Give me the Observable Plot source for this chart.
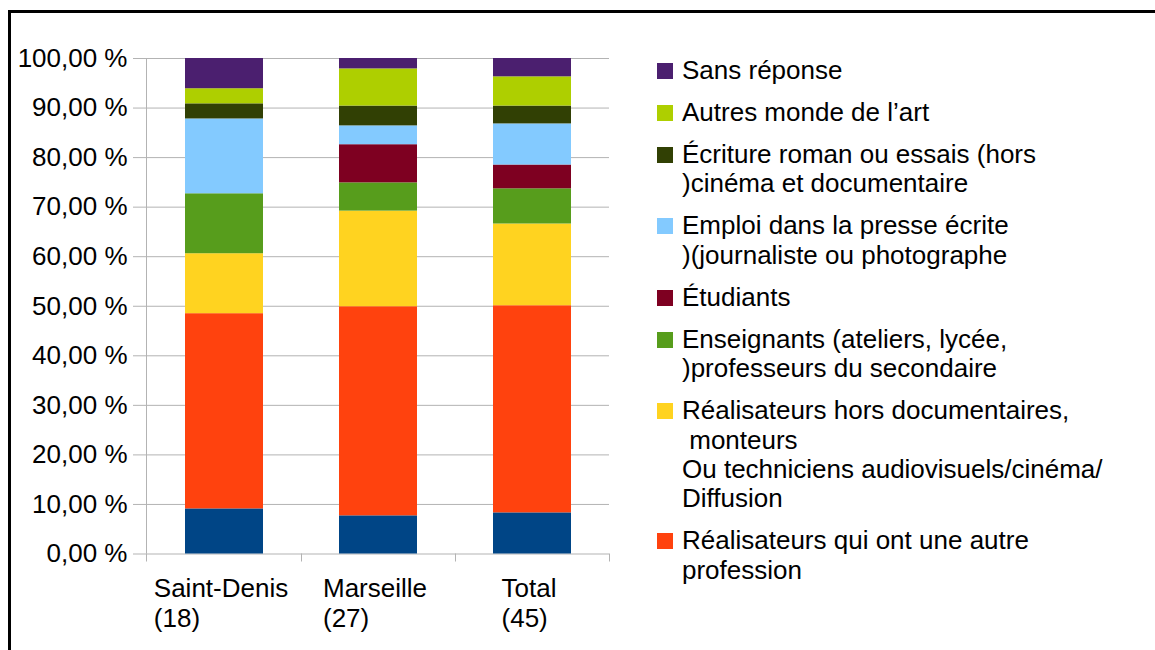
<!DOCTYPE html>
<html><head><meta charset="utf-8">
<script src="https://cdn.jsdelivr.net/npm/d3@7"></script>
<script src="https://cdn.jsdelivr.net/npm/@observablehq/plot@0.6"></script>
<style>
html,body{margin:0;padding:0;background:#fff;width:1155px;height:650px;overflow:hidden;font-family:"Liberation Sans",Arial,sans-serif;}
#wrap{position:relative;width:1155px;height:650px;}
#chart{position:absolute;left:0;top:0;}
#frame{position:absolute;left:8px;top:10px;width:1200px;height:700px;border-top:3px solid #000;border-left:3px solid #000;pointer-events:none;}
#legend{position:absolute;left:657px;top:56px;font-size:26px;line-height:29.4px;color:#000;}
.item{position:relative;padding-left:25px;margin-bottom:12.6px;white-space:pre;}
.sw{position:absolute;left:0;top:6.7px;width:16px;height:16px;}
</style></head>
<body>
<div id="wrap">
  <div id="chart"></div>
  <div id="legend"></div>
  <div id="frame"></div>
</div>
<script>
// ---- data ----
const categories = ["Saint-Denis", "Marseille", "Total"];
const categoryCounts = ["(18)", "(27)", "(45)"];

// series, bottom to top of each bar
const seriesNames = [
  "Série sans légende",
  "Réalisateurs qui ont une autre profession",
  "Réalisateurs hors documentaires, monteurs Ou techniciens audiovisuels/cinéma/ Diffusion",
  "Enseignants (ateliers, lycée, )professeurs du secondaire",
  "Étudiants",
  "Emploi dans la presse écrite )(journaliste ou photographe",
  "Écriture roman ou essais (hors )cinéma et documentaire",
  "Autres monde de l’art",
  "Sans réponse"
];
const seriesColors = ["#004586", "#ff420e", "#ffd320", "#579d1c", "#7e0021", "#83caff", "#314004", "#aecf00", "#4b1f6f"];

// legend text (null = no legend entry), same order as seriesNames
const legendLabels = [
  null,
  "Réalisateurs qui ont une autre\nprofession",
  "Réalisateurs hors documentaires,\n monteurs\nOu techniciens audiovisuels/cinéma/\nDiffusion",
  "Enseignants (ateliers, lycée,\n)professeurs du secondaire",
  "Étudiants",
  "Emploi dans la presse écrite\n)(journaliste ou photographe",
  "Écriture roman ou essais (hors\n)cinéma et documentaire",
  "Autres monde de l’art",
  "Sans réponse"
];

// percentages per category, same order as seriesNames
const valuesSaintDenis = [9.1, 39.4, 12.1, 12.1, 0, 15.1, 3.05, 3.05, 6.1];
const valuesMarseille  = [7.7, 42.2, 19.3, 5.7, 7.7, 3.8, 4.0, 7.5, 2.1];
const valuesTotal      = [8.3, 41.8, 16.5, 7.1, 4.8, 8.3, 3.6, 5.9, 3.7];

const yTicks = [0, 10, 20, 30, 40, 50, 60, 70, 80, 90, 100];

// ---- build table ----
const valuesByCategory = [valuesSaintDenis, valuesMarseille, valuesTotal];
const table = [];
seriesNames.forEach((s, j) => {
  categories.forEach((c, i) => {
    table.push({category: c, series: s, value: valuesByCategory[i][j]});
  });
});

const fmt = d => d.toFixed(2).replace(".", ",") + " %";
const gridColor = "#b3b3b3";

const W = 1155, H = 650;
const mL = 146, mR = 546, mT = 58, mB = 96.5;

const plot = Plot.plot({
  width: W, height: H,
  marginLeft: mL, marginRight: mR, marginTop: mT, marginBottom: mB,
  style: {fontFamily: "'Liberation Sans', Arial, sans-serif", fontSize: "26px", color: "#000", background: "transparent", overflow: "visible"},
  x: {domain: categories, paddingInner: 0.494, paddingOuter: 0.247, axis: null},
  y: {domain: [0, 100], axis: null},
  color: {domain: seriesNames, range: seriesColors},
  marks: [
    Plot.gridY(yTicks, {stroke: gridColor, strokeOpacity: 1, strokeWidth: 1}),
    Plot.axisY(yTicks, {tickSize: 13, tickPadding: 6, stroke: gridColor, strokeOpacity: 1, fill: "#000", tickFormat: fmt, label: null, fontSize: 26}),
    Plot.barY(table, {x: "category", y: "value", fill: "series"})
  ]
});

document.getElementById("chart").appendChild(plot);

// ---- axis frame, category separators and multi-line category labels, from the x scale ----
const xs = plot.scale("x");
const svg = d3.select(plot);
const bw = xs.bandwidth;
const centers = categories.map(c => xs.apply(c) + bw / 2);
const x0 = mL, x1 = W - mR, yBottom = H - mB;
const bounds = [x0];
for (let i = 0; i < centers.length - 1; i++) bounds.push((centers[i] + centers[i + 1]) / 2);
bounds.push(x1);

const g = svg.append("g").attr("stroke", gridColor).attr("stroke-width", 1);
g.append("line").attr("x1", x0 + 0.5).attr("x2", x0 + 0.5).attr("y1", mT).attr("y2", yBottom);
bounds.forEach(b => {
  g.append("line").attr("x1", Math.round(b) + 0.5).attr("x2", Math.round(b) + 0.5).attr("y1", yBottom).attr("y2", yBottom + 8);
});

categories.forEach((c, i) => {
  const t = svg.append("text")
    .attr("font-family", "'Liberation Sans', Arial, sans-serif")
    .attr("font-size", 26).attr("fill", "#000").attr("text-anchor", "start");
  const t1 = t.append("tspan").attr("y", yBottom + 43).text(c);
  const t2 = t.append("tspan").attr("y", yBottom + 73.5).text(categoryCounts[i]);
  const w = Math.max(t1.node().getComputedTextLength(), t2.node().getComputedTextLength());
  const x = centers[i] - w / 2 - 3;
  t1.attr("x", x); t2.attr("x", x);
});

// ---- legend (top to bottom = reverse stacking order) ----
const legend = document.getElementById("legend");
for (let j = seriesNames.length - 1; j >= 0; j--) {
  if (!legendLabels[j]) continue;
  const item = document.createElement("div");
  item.className = "item";
  const sw = document.createElement("span");
  sw.className = "sw";
  sw.style.background = seriesColors[j];
  item.appendChild(sw);
  item.appendChild(document.createTextNode(legendLabels[j]));
  legend.appendChild(item);
}
</script>
</body></html>
